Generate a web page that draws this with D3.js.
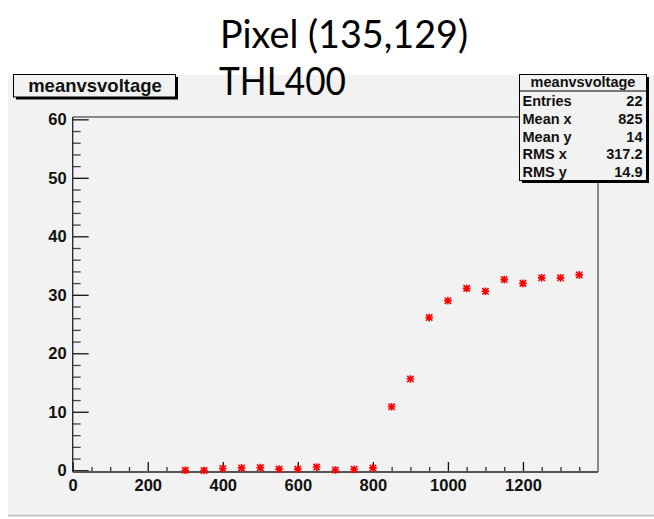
<!DOCTYPE html>
<html>
<head>
<meta charset="utf-8">
<script src="https://cdn.jsdelivr.net/npm/d3@7"></script>
<style>
  body { margin: 0; background: #fff; }
</style>
</head>
<body>
<svg width="654" height="519"></svg>
<script>
// data
var voltage = [300, 350, 400, 450, 500, 550, 600, 650, 700, 750, 800,
               850, 900, 950, 1000, 1050, 1100, 1150, 1200, 1250, 1300, 1350];
var meanVal = [0.0, -0.05, 0.3, 0.4, 0.45, 0.2, 0.2, 0.55, 0.05, 0.15, 0.4,
               10.85, 15.6, 26.1, 29.0, 31.1, 30.6, 32.6, 31.95, 32.9, 32.9, 33.4];
var xTicks = [0, 200, 400, 600, 800, 1000, 1200];
var yTicks = [0, 10, 20, 30, 40, 50, 60];
var statNames = ["Entries", "Mean x", "Mean y", "RMS x", "RMS y"];
var statValues = ["22", "825", "14", "317.2", "14.9"];
var histName = "meanvsvoltage";
var slideTitle = ["Pixel (135,129)", "THL400"];

var rootFont = "Liberation Sans, Arial, sans-serif";

var svg = d3.select("svg"),
    width = +svg.attr("width"),
    height = +svg.attr("height");

var frame = {left: 72.7, right: 598, top: 117, bottom: 472};

// ROOT canvas background
svg.append("rect")
    .attr("x", 8).attr("y", 75)
    .attr("width", width - 8).attr("height", 440)
    .attr("fill", "#f2f2f2");
svg.append("line")
    .attr("x1", 8).attr("x2", width)
    .attr("y1", 515.5).attr("y2", 515.5)
    .attr("stroke", "#c4c4c4").attr("stroke-width", 2);

var x = d3.scaleLinear()
    .domain([0, 1400])
    .range([frame.left, frame.right]);
var y = d3.scaleLinear()
    .domain([-0.3, 60.4])
    .range([frame.bottom, frame.top]);

// frame (top/right)
svg.append("path")
    .attr("d", "M" + frame.left + "," + frame.top + "H" + frame.right + "V" + frame.bottom)
    .attr("fill", "none")
    .attr("stroke", "#666")
    .attr("stroke-width", 1.5);

// y axis: major + minor ticks pointing inwards
var yMinor = d3.range(0, 61, 2).filter(function(d) { return d % 10 !== 0; });
svg.append("g")
    .attr("transform", "translate(" + frame.left + ",0)")
    .call(d3.axisLeft(y).tickValues(yMinor).tickSize(-8).tickFormat(""))
    .call(function(g) { g.select(".domain").remove(); })
    .selectAll("line").attr("stroke", "#444").attr("stroke-width", 1.3);
var gy = svg.append("g")
    .attr("transform", "translate(" + frame.left + ",0)")
    .call(d3.axisLeft(y).tickValues(yTicks).tickFormat(d3.format("d"))
      .tickSizeInner(-16).tickSizeOuter(0).tickPadding(6));
gy.select(".domain").remove();
gy.selectAll("line").attr("stroke", "#111").attr("stroke-width", 1.3);
gy.selectAll("text")
    .attr("font-family", rootFont)
    .attr("font-size", 16.5).attr("font-weight", "bold").attr("fill", "#111");

// x axis: major + minor ticks pointing inwards
var xMinor = d3.range(50, 1400, 50).filter(function(d) { return d % 200 !== 0; });
svg.append("g")
    .attr("transform", "translate(0," + frame.bottom + ")")
    .call(d3.axisBottom(x).tickValues(xMinor).tickSize(-5).tickFormat(""))
    .call(function(g) { g.select(".domain").remove(); })
    .selectAll("line").attr("stroke", "#333").attr("stroke-width", 1.3);
var gx = svg.append("g")
    .attr("transform", "translate(0," + frame.bottom + ")")
    .call(d3.axisBottom(x).tickValues(xTicks).tickFormat(d3.format("d"))
      .tickSizeInner(-10).tickSizeOuter(0).tickPadding(7));
gx.select(".domain").remove();
gx.selectAll("line").attr("stroke", "#111").attr("stroke-width", 1.3);
gx.selectAll("text")
    .attr("font-family", rootFont)
    .attr("font-size", 16.5).attr("font-weight", "bold").attr("fill", "#111");

// axis lines
svg.append("line")
    .attr("x1", frame.left).attr("x2", frame.left)
    .attr("y1", frame.top).attr("y2", frame.bottom)
    .attr("stroke", "#222").attr("stroke-width", 1.3);
svg.append("line")
    .attr("x1", frame.left).attr("x2", frame.right)
    .attr("y1", frame.bottom).attr("y2", frame.bottom)
    .attr("stroke", "#555").attr("stroke-width", 1.8);

// red asterisk markers
var star = "M-3.8,0H3.8M0,-3.8V3.8M-3.2,-3.2L3.2,3.2M-3.2,3.2L3.2,-3.2";
svg.append("g")
  .selectAll("path")
  .data(voltage)
  .enter().append("path")
    .attr("transform", function(d, i) { return "translate(" + x(d) + "," + y(meanVal[i]) + ")"; })
    .attr("d", star)
    .attr("fill", "none")
    .attr("stroke", "#ff0000")
    .attr("stroke-width", 1.6);

// pave with ROOT-style shadow
function pave(x0, y0, w, h) {
  svg.append("rect")
      .attr("x", x0 + 2.5).attr("y", y0 + 2.5)
      .attr("width", w).attr("height", h)
      .attr("fill", "#000");
  svg.append("rect")
      .attr("x", x0).attr("y", y0)
      .attr("width", w).attr("height", h)
      .attr("fill", "#f2f2f2")
      .attr("stroke", "#000").attr("stroke-width", 1);
}

pave(13.5, 74.5, 162, 22.5);
svg.append("text")
    .attr("x", 95).attr("y", 92)
    .attr("text-anchor", "middle")
    .attr("font-family", rootFont)
    .attr("font-size", 18.5).attr("font-weight", "bold")
    .attr("fill", "#111")
    .text(histName);

// stats box
var sx = 519.5, sy = 74.5, sw = 127, sh = 106;
pave(sx, sy, sw, sh);
svg.append("line")
    .attr("x1", sx).attr("x2", sx + sw)
    .attr("y1", 91).attr("y2", 91)
    .attr("stroke", "#000");
svg.append("text")
    .attr("x", sx + sw / 2).attr("y", 87)
    .attr("text-anchor", "middle")
    .attr("font-family", rootFont)
    .attr("font-size", 14.5).attr("font-weight", "bold")
    .attr("fill", "#111")
    .text(histName);
var rowY = d3.scaleLinear().domain([0, 4]).range([106, 177]);
var rows = svg.append("g").selectAll("g")
    .data(statNames)
    .enter().append("g")
    .attr("font-family", rootFont)
    .attr("font-size", 14.5).attr("font-weight", "bold").attr("fill", "#111");
rows.append("text")
    .attr("x", sx + 3).attr("y", function(d, i) { return rowY(i); })
    .text(function(d) { return d; });
rows.append("text")
    .attr("x", sx + sw - 4).attr("y", function(d, i) { return rowY(i); })
    .attr("text-anchor", "end")
    .text(function(d, i) { return statValues[i]; });

// slide title overlaid on top
svg.append("text")
    .attr("x", 220).attr("y", 48)
    .style("font-family", "Lato, sans-serif")
    .attr("font-size", 39)
    .attr("textLength", 248).attr("lengthAdjust", "spacingAndGlyphs")
    .attr("fill", "#000")
    .text(slideTitle[0]);
svg.append("text")
    .attr("x", 219).attr("y", 95)
    .style("font-family", "Lato, sans-serif")
    .attr("font-size", 39)
    .attr("textLength", 127).attr("lengthAdjust", "spacingAndGlyphs")
    .attr("fill", "#000")
    .text(slideTitle[1]);
</script>
</body>
</html>
